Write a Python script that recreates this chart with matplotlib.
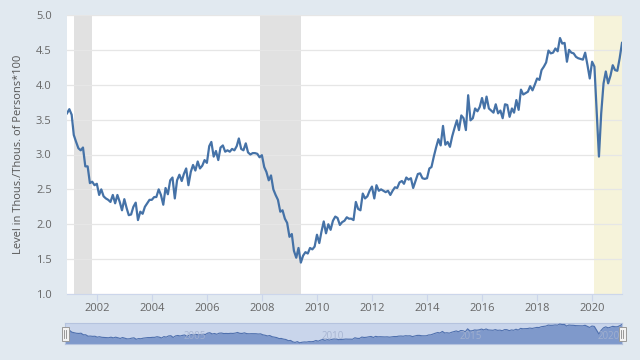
import numpy as np
import pandas as pd
import matplotlib
matplotlib.use("Agg")
import matplotlib.pyplot as plt
import matplotlib.dates as mdates
from matplotlib.patches import Rectangle

# ---------------- data ----------------
start_month = "2000-12-01"
rate = [
    3.59,
    3.65, 3.57, 3.28, 3.18, 3.09, 3.06, 3.10, 2.83, 2.83, 2.59, 2.61, 2.56,  # 2001
    2.58, 2.42, 2.50, 2.40, 2.37, 2.35, 2.32, 2.42, 2.30, 2.42, 2.32, 2.20,  # 2002
    2.36, 2.23, 2.13, 2.14, 2.25, 2.31, 2.06, 2.18, 2.15, 2.25, 2.30, 2.35,  # 2003
    2.35, 2.39, 2.39, 2.50, 2.42, 2.28, 2.52, 2.43, 2.63, 2.67, 2.37, 2.63,  # 2004
    2.71, 2.62, 2.72, 2.80, 2.56, 2.75, 2.85, 2.77, 2.90, 2.80, 2.84, 2.92,  # 2005
    2.88, 3.12, 3.18, 2.97, 3.05, 2.92, 3.10, 3.13, 3.04, 3.06, 3.04, 3.08,  # 2006
    3.06, 3.12, 3.23, 3.08, 3.06, 3.16, 3.03, 3.00, 3.02, 3.02, 3.01, 2.96,  # 2007
    2.99, 2.82, 2.75, 2.63, 2.70, 2.50, 2.42, 2.35, 2.18, 2.20, 2.08, 2.02,  # 2008
    1.82, 1.86, 1.62, 1.52, 1.66, 1.45, 1.55, 1.60, 1.58, 1.66, 1.64, 1.68,  # 2009
    1.85, 1.73, 1.89, 2.04, 1.87, 2.00, 1.92, 2.05, 2.11, 2.09, 1.99, 2.03,  # 2010
    2.05, 2.10, 2.08, 2.08, 2.06, 2.32, 2.22, 2.20, 2.44, 2.37, 2.40, 2.48,  # 2011
    2.54, 2.37, 2.56, 2.48, 2.50, 2.48, 2.46, 2.48, 2.42, 2.48, 2.53, 2.52,  # 2012
    2.60, 2.62, 2.58, 2.67, 2.64, 2.66, 2.52, 2.62, 2.72, 2.73, 2.66, 2.65,  # 2013
    2.66, 2.80, 2.82, 2.97, 3.10, 3.22, 3.13, 3.41, 3.14, 3.18, 3.11, 3.26,  # 2014
    3.38, 3.49, 3.35, 3.56, 3.52, 3.35, 3.85, 3.49, 3.52, 3.66, 3.62, 3.68,  # 2015
    3.81, 3.66, 3.83, 3.66, 3.63, 3.60, 3.72, 3.59, 3.63, 3.52, 3.72, 3.71,  # 2016
    3.54, 3.66, 3.60, 3.78, 3.64, 3.93, 3.86, 3.88, 3.90, 3.98, 3.92, 4.00,  # 2017
    4.09, 4.07, 4.21, 4.26, 4.32, 4.49, 4.45, 4.46, 4.52, 4.48, 4.67, 4.59,  # 2018
    4.60, 4.33, 4.50, 4.46, 4.45, 4.40, 4.38, 4.37, 4.36, 4.46, 4.28, 4.09,  # 2019
    4.33, 4.26, 3.64, 2.97, 3.59, 4.02, 4.19, 4.02, 4.13, 4.28, 4.21, 4.20,  # 2020
    4.38, 4.60,                                                              # 2021
]
recessions = [("2001-03-01", "2001-11-01"), ("2007-12-01", "2009-06-01")]
recent_period = ("2020-02-01", "2021-02-01")
y_ticks = [1.0, 1.5, 2.0, 2.5, 3.0, 3.5, 4.0, 4.5, 5.0]
x_tick_years = [2002, 2004, 2006, 2008, 2010, 2012, 2014, 2016, 2018, 2020]
nav_years = [2005, 2010, 2015, 2020]
y_label = "Level in Thous./Thous. of Persons*100"

dates = pd.date_range(start_month, periods=len(rate), freq="MS")

# ---------------- style ----------------
plt.rcParams["font.family"] = ["Open Sans", "DejaVu Sans"]
BG = "#e1e9f0"
LINE = "#4572a7"
TXT = "#666666"

fig = plt.figure(figsize=(6.4, 3.6), dpi=100, facecolor=BG)
W, H = 640, 360
ax = fig.add_axes([67 / W, 1 - 294 / H, (622 - 67) / W, (294 - 15) / H])
ax.set_facecolor("white")

x0, x1 = dates[0], dates[-1]
for a, b in recessions:
    ax.axvspan(pd.Timestamp(a), pd.Timestamp(b), color="#e1e1e1", lw=0, zorder=1)
ax.axvspan(pd.Timestamp(recent_period[0]), pd.Timestamp(recent_period[1]),
           color="#f6f3da", lw=0, zorder=1)

ax.plot(dates, rate, color=LINE, lw=1.6, zorder=3, solid_joinstyle="round")

ax.set_xlim(x0, x1)
ax.set_ylim(1.0, 5.0)
ax.set_yticks(y_ticks)
ax.set_yticklabels([f"{v:.1f}" for v in y_ticks])
ax.grid(axis="y", color="#e6e6e6", lw=0.9, zorder=0)
ax.set_xticks([pd.Timestamp(f"{y}-01-01") for y in x_tick_years])
ax.set_xticklabels([str(y) for y in x_tick_years])
ax.tick_params(axis="y", length=0, pad=11, labelsize=8, labelcolor=TXT)
ax.tick_params(axis="x", length=5, width=0.8, color="#ccd6eb", pad=1.5,
               labelsize=8, labelcolor=TXT)
for s in ["top", "right", "left"]:
    ax.spines[s].set_visible(False)
ax.spines["bottom"].set_color("#ccd6eb")
ax.spines["bottom"].set_linewidth(0.8)
ax.set_ylabel(y_label, fontsize=8, color="#555555")
ax.yaxis.set_label_coords(-0.078, 0.5)

# ---------------- navigator ----------------
nav = fig.add_axes([65 / W, 1 - 344 / H, (622 - 65) / W, (344 - 323) / H])
nav.set_facecolor("#c9d5eb")
nav.fill_between(dates, 0, rate, color="#7f99cb", lw=0, zorder=2)
nav.plot(dates, rate, color="#4f70ae", lw=0.8, zorder=3)
nav.set_xlim(x0, x1)
nav.set_ylim(1.25, 4.85)
nav.set_xticks([])
nav.set_yticks([])
for s in nav.spines.values():
    s.set_color("#b5c3de")
    s.set_linewidth(0.8)
for y in nav_years:
    nav.text(pd.Timestamp(f"{y}-01-01") + pd.Timedelta(days=70), 0.38, str(y),
             transform=nav.get_xaxis_transform(), fontsize=7,
             color="#a3b1cf", alpha=0.9, va="center", ha="left", zorder=4)

# handles
for hx in [65, 622]:
    fig.patches.append(Rectangle(((hx - 3.5) / W, 1 - 341 / H), 7 / W, 14 / H,
                                 transform=fig.transFigure, facecolor="#f2f2f2",
                                 edgecolor="#999999", lw=0.7, zorder=10))
    for dx in (-1.2, 1.2):
        fig.lines.append(plt.Line2D([(hx + dx) / W] * 2, [1 - 338 / H, 1 - 330 / H],
                                    transform=fig.transFigure, color="#888888",
                                    lw=0.6, zorder=11))

fig.savefig("out.png", dpi=100, facecolor=BG)
